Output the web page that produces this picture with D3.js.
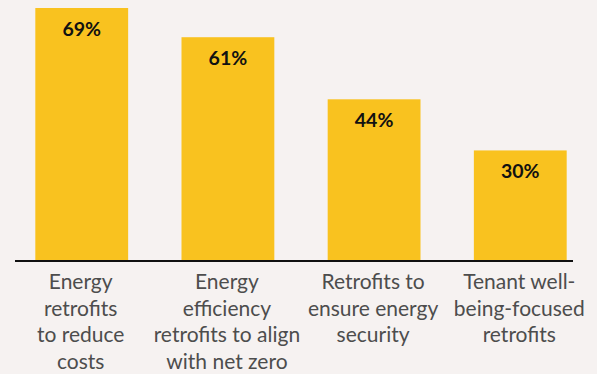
<!DOCTYPE html>
<html>
<head>
<meta charset="utf-8">
<script src="https://cdn.jsdelivr.net/npm/d3@7"></script>
<style>
  html, body { margin: 0; padding: 0; background: #f6f2f1; }
  svg { display: block; }
</style>
</head>
<body>
<svg id="chart" width="597" height="374"></svg>
<script>
// Share of respondents citing each retrofit driver
const categories = [
  ["Energy", "retrofits", "to reduce", "costs"],
  ["Energy", "efficiency", "retrofits to align", "with net zero"],
  ["Retrofits to", "ensure energy", "security"],
  ["Tenant well-", "being-focused", "retrofits"]
];
const values = [69, 61, 44, 30];
const valueLabels = ["69%", "61%", "44%", "30%"];

const svg = d3.select("#chart");
const W = 597, H = 374;
const baseY = 260;

const x = d3.scaleBand()
  .domain(d3.range(values.length))
  .range([9, 593])
  .paddingInner(0.365)
  .paddingOuter(0.18);

const y = d3.scaleLinear().domain([0, 69]).range([baseY, 8]);

svg.append("rect").attr("width", W).attr("height", H).attr("fill", "#f6f2f1");

// bars
svg.selectAll("rect.bar")
  .data(values)
  .join("rect")
  .attr("class", "bar")
  .attr("x", (d, i) => x(i))
  .attr("width", x.bandwidth())
  .attr("y", d => y(d))
  .attr("height", d => baseY - y(d))
  .attr("fill", "#f9c21f");

// value labels
svg.selectAll("text.val")
  .data(values)
  .join("text")
  .attr("class", "val")
  .attr("x", (d, i) => x(i) + x.bandwidth() / 2)
  .attr("y", d => y(d) + 28)
  .attr("text-anchor", "middle")
  .attr("font-family", "Lato, 'Open Sans', sans-serif")
  .attr("font-weight", 700)
  .attr("font-size", 19.5)
  .attr("fill", "#111")
  .text((d, i) => valueLabels[i]);

// baseline axis
const xAxis = d3.axisBottom(x).tickSize(0).tickFormat("");
const axisG = svg.append("g").attr("transform", `translate(0,${baseY + 1})`).call(xAxis);
axisG.select(".domain").remove();
axisG.append("line")
  .attr("x1", 15).attr("x2", 573)
  .attr("stroke", "#111").attr("stroke-width", 2);

// category labels
const catG = svg.selectAll("text.cat")
  .data(categories)
  .join("text")
  .attr("class", "cat")
  .attr("text-anchor", "middle")
  .attr("font-family", "Lato, 'Open Sans', sans-serif")
  .attr("font-size", 21)
  .attr("fill", "#4d4d4d");

catG.selectAll("tspan")
  .data((d, i) => d.map(t => ({ t, i })))
  .join("tspan")
  .attr("x", d => x(d.i) + x.bandwidth() / 2 - 1)
  .attr("y", (d, j) => 289 + j * 26.6)
  .text(d => d.t);
</script>
</body>
</html>
